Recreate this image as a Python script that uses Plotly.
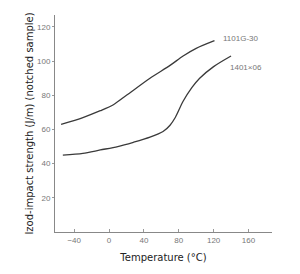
import plotly.graph_objects as go

# Data
t_1101 = [-55, -30, -10, 5, 20, 47, 70, 85, 100, 121]
v_1101 = [63, 67, 71, 74.5, 80, 90, 97.5, 103, 107.5, 112]

t_1401 = [-53, -30, -10, 10, 28, 47, 62, 70, 76, 85, 95, 104, 120, 140]
v_1401 = [45, 46, 48, 50, 52.5, 55.5, 58.8, 62.5, 67, 76.5, 84.5, 90, 96.8, 103]

series_names = ["1101G-30", "1401×06"]
label_pos_x = [128, 137]
label_pos_y = [113, 96]

x_ticks = [-40, 0, 40, 80, 120, 160]
y_ticks = [20, 40, 60, 80, 100, 120]

line_color = "#3a3a3a"
tick_font = dict(family="Liberation Sans Narrow, Arial Narrow, Liberation Sans, Arial", size=8, color="#777777")
title_font = dict(family="DejaVu Sans, Liberation Sans, Arial", size=10, color="#222222")

fig = go.Figure()
for xs, ys in [(t_1101, v_1101), (t_1401, v_1401)]:
    fig.add_trace(go.Scatter(x=xs, y=ys, mode="lines", line=dict(color=line_color, width=1.3, shape="spline", smoothing=0.8),
                             showlegend=False, hoverinfo="skip"))

for name, lx, ly in zip(series_names, label_pos_x, label_pos_y):
    fig.add_annotation(x=lx, y=ly, text=name, showarrow=False, xanchor="left", yanchor="middle",
                       font=tick_font)

fig.update_layout(
    width=300, height=274,
    margin=dict(l=55, r=28, t=15, b=36),
    plot_bgcolor="white", paper_bgcolor="white",
    xaxis=dict(range=[-62, 187], tickvals=x_ticks, ticks="inside", ticklen=3, tickcolor="#999999",
               showline=True, linecolor="#888888", linewidth=1, showgrid=False, zeroline=False,
               tickfont=tick_font,
               title=dict(text="Temperature (°C)", font=title_font, standoff=10)),
    yaxis=dict(range=[0, 127], tickvals=y_ticks, ticks="outside", ticklen=2, tickcolor="#999999",
               showline=True, linecolor="#888888", linewidth=1, showgrid=False, zeroline=False,
               tickfont=tick_font,
               title=dict(text="Izod-impact strength (J/m) (notched sample)", font=title_font, standoff=1)),
)

fig.write_html("out.html")
